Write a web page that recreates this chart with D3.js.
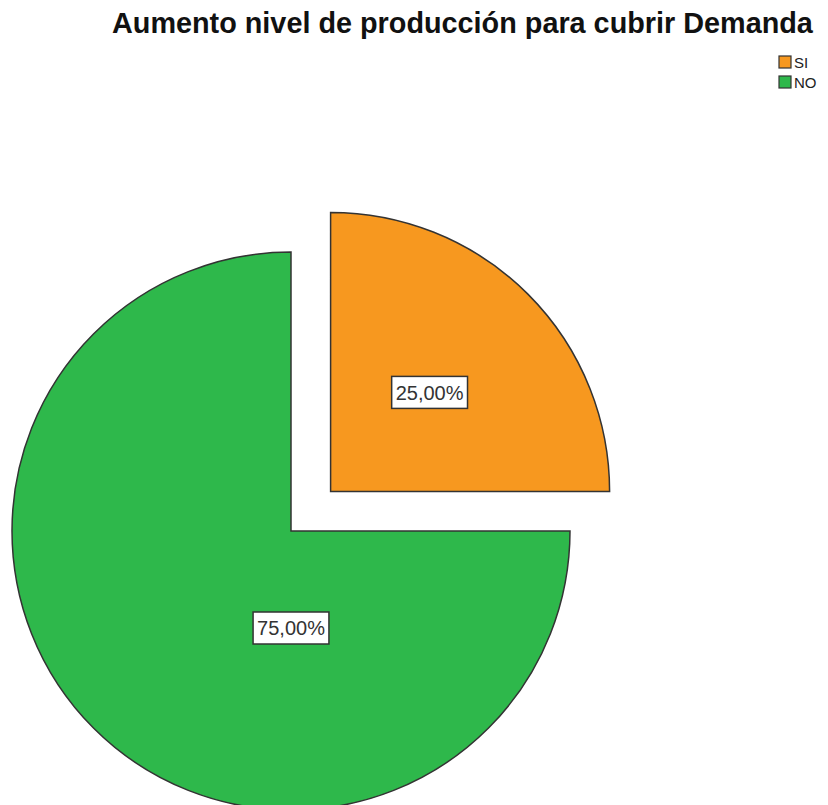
<!DOCTYPE html>
<html>
<head>
<meta charset="utf-8">
<script src="https://cdn.jsdelivr.net/npm/d3@7"></script>
<style>
  body { margin: 0; background: #fff; }
  svg { display: block; }
</style>
</head>
<body>
<div id="chart"></div>
<script>
// data
var categories = ["SI", "NO"];
var values = [25, 75];
var labels = ["25,00%", "75,00%"];
var colors = ["#f7981f", "#2eb84b"];

var width = 828, height = 805;

var svg = d3.select("#chart").append("svg")
    .attr("width", width)
    .attr("height", height);

// title
svg.append("text")
    .attr("x", 112)
    .attr("y", 33)
    .attr("font-family", "Liberation Sans, Arial, sans-serif")
    .attr("font-weight", "bold")
    .attr("font-size", 28.8)
    .attr("fill", "#111")
    .text("Aumento nivel de producción para cubrir Demanda");

// legend
var legend = svg.append("g").attr("transform", "translate(779,56)");
var item = legend.selectAll("g")
    .data(categories)
    .enter().append("g")
    .attr("transform", function(d, i) { return "translate(0," + (i * 20) + ")"; });
item.append("rect")
    .attr("width", 12).attr("height", 12)
    .attr("fill", function(d, i) { return colors[i]; })
    .attr("stroke", "#333").attr("stroke-width", 1.2);
item.append("text")
    .attr("x", 15).attr("y", 12)
    .attr("font-family", "Liberation Sans, Arial, sans-serif")
    .attr("font-size", 15)
    .attr("fill", "#222")
    .text(function(d) { return d; });

// pie
var radius = 279;
var cx = 291, cy = 531;
var explode = 56;

var pie = d3.pie().sort(null).value(function(d) { return d; });
var arcs = pie(values);

var arc = d3.arc().innerRadius(0).outerRadius(radius);

var g = svg.append("g").attr("transform", "translate(" + cx + "," + cy + ")");

var slice = g.selectAll(".slice")
    .data(arcs)
    .enter().append("g")
    .attr("class", "slice")
    .attr("transform", function(d, i) {
        if (i !== 0) return null;
        var a = (d.startAngle + d.endAngle) / 2;
        return "translate(" + (Math.sin(a) * explode) + "," + (-Math.cos(a) * explode) + ")";
    });

slice.append("path")
    .attr("d", arc)
    .attr("fill", function(d, i) { return colors[i]; })
    .attr("stroke", "#333")
    .attr("stroke-width", 1.5)
    .attr("stroke-linejoin", "miter");

// value labels
var labelArc = d3.arc().innerRadius(140).outerRadius(140);
slice.each(function(d, i) {
    var p = labelArc.centroid(d);
    // the big slice puts its label straight below the centre
    if (i === 1) p = [0, 97];
    var lg = d3.select(this).append("g").attr("transform", "translate(" + p[0] + "," + p[1] + ")");
    var t = lg.append("text")
        .attr("text-anchor", "middle")
        .attr("dy", "0.36em")
        .attr("font-family", "Liberation Sans, Arial, sans-serif")
        .attr("font-size", 20)
        .attr("fill", "#333")
        .text(labels[i]);
    var w = t.node().getComputedTextLength() + 8;
    lg.insert("rect", "text")
        .attr("x", -w / 2).attr("y", -16)
        .attr("width", w).attr("height", 32)
        .attr("fill", "#fff")
        .attr("stroke", "#333")
        .attr("stroke-width", 1.5);
});
</script>
</body>
</html>
